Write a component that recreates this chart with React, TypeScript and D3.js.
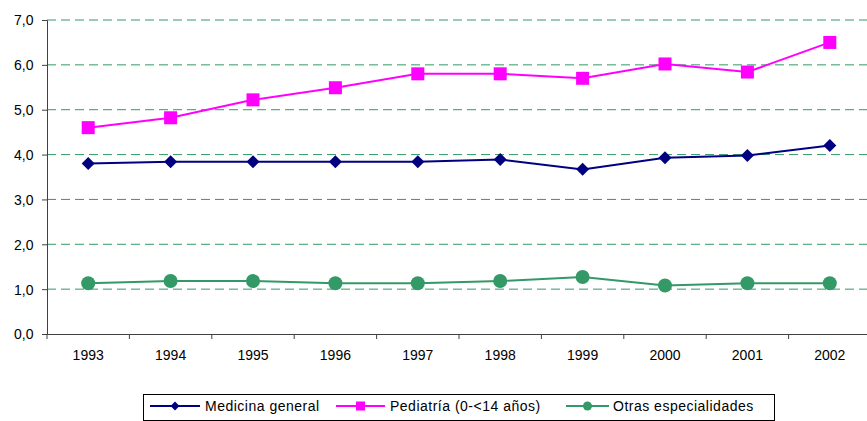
import { useEffect, useRef } from "react";
import * as d3 from "d3";

// years on the x axis
const years = ["1993", "1994", "1995", "1996", "1997", "1998", "1999", "2000", "2001", "2002"];

// series values
const medicinaGeneral = [3.8, 3.84, 3.84, 3.84, 3.84, 3.89, 3.67, 3.93, 3.98, 4.2];
const pediatria = [4.6, 4.82, 5.22, 5.49, 5.8, 5.8, 5.7, 6.02, 5.84, 6.5];
const otras = [1.13, 1.18, 1.18, 1.13, 1.13, 1.18, 1.27, 1.08, 1.13, 1.13];

const yTicks = [0, 1, 2, 3, 4, 5, 6, 7];

type Series = { name: string; values: number[]; color: string; marker: "diamond" | "square" | "circle" };

const series: Series[] = [
    { name: "Medicina general", values: medicinaGeneral, color: "#000080", marker: "diamond" },
    { name: "Pediatría (0-<14 años)", values: pediatria, color: "#FF00FF", marker: "square" },
    { name: "Otras especialidades", values: otras, color: "#339966", marker: "circle" },
];

const W = 867;
const H = 421;
const font = "'Liberation Sans', Arial, sans-serif";

function drawMarker(g: d3.Selection<SVGGElement, unknown, null, undefined>, kind: string, x: number, y: number, color: string, s: number) {
    if (kind === "diamond") {
        g.append("path")
            .attr("d", `M${x},${y - s}L${x + s},${y}L${x},${y + s}L${x - s},${y}Z`)
            .attr("fill", color);
    } else if (kind === "square") {
        g.append("rect")
            .attr("x", x - s)
            .attr("y", y - s)
            .attr("width", s * 2)
            .attr("height", s * 2)
            .attr("fill", color);
    } else {
        g.append("circle").attr("cx", x).attr("cy", y).attr("r", s).attr("fill", color);
    }
}

export default function App() {
    const ref = useRef<SVGSVGElement | null>(null);

    useEffect(() => {
        if (!ref.current) return;
        const svg = d3.select(ref.current);
        svg.selectAll("*").remove();

        const margin = { top: 20, left: 47, bottom: 334 };
        const plotRight = margin.left + 82.4 * years.length;

        const x = d3.scaleBand().domain(years).range([margin.left, plotRight]);
        const y = d3.scaleLinear().domain([0, 7]).range([margin.bottom, margin.top]);
        const cx = (d: string) => (x(d) || 0) + x.bandwidth() / 2;

        // gridlines
        svg.append("g")
            .selectAll("line")
            .data(yTicks.filter(t => t > 0))
            .enter()
            .append("line")
            .attr("x1", margin.left)
            .attr("x2", plotRight)
            .attr("y1", d => y(d))
            .attr("y2", d => y(d))
            .attr("stroke", "#339966")
            .attr("stroke-width", 1)
            .attr("stroke-dasharray", "9,5");

        // y axis
        const yAxis = svg.append("g")
            .attr("transform", `translate(${margin.left},0)`)
            .call(d3.axisLeft(y).tickValues(yTicks).tickSize(5).tickPadding(8.5).tickFormat(d => d3.format(".1f")(d as number).replace(".", ",")));
        yAxis.select(".domain").attr("stroke", "#404040");
        yAxis.selectAll(".tick line").attr("stroke", "#404040");
        yAxis.selectAll("text").attr("font-family", font).attr("font-size", 14).attr("fill", "#000").attr("dy", "0.35em");

        // x axis
        const xAxis = svg.append("g")
            .attr("transform", `translate(0,${margin.bottom})`)
            .call(d3.axisBottom(x).tickSize(0).tickPadding(16));
        xAxis.select(".domain").attr("stroke", "#404040");
        xAxis.selectAll("text").attr("font-family", font).attr("font-size", 14).attr("fill", "#000");
        // tick marks between categories
        svg.append("g")
            .selectAll("line")
            .data(d3.range(years.length + 1))
            .enter()
            .append("line")
            .attr("x1", i => margin.left + i * x.step())
            .attr("x2", i => margin.left + i * x.step())
            .attr("y1", margin.bottom)
            .attr("y2", margin.bottom + 5)
            .attr("stroke", "#404040");

        // series
        const line = d3.line<number>()
            .x((_, i) => cx(years[i]))
            .y(d => y(d));
        const markerSize: Record<string, number> = { diamond: 6.5, square: 6.5, circle: 7 };
        series.forEach(s => {
            const g = svg.append("g");
            g.append("path")
                .attr("d", line(s.values) || "")
                .attr("fill", "none")
                .attr("stroke", s.color)
                .attr("stroke-width", 2);
            s.values.forEach((v, i) => drawMarker(g, s.marker, cx(years[i]), y(v), s.color, markerSize[s.marker]));
        });

        // legend
        const lg = svg.append("g");
        lg.append("rect")
            .attr("x", 143.5)
            .attr("y", 394.5)
            .attr("width", 631)
            .attr("height", 26)
            .attr("fill", "#fff")
            .attr("stroke", "#000");
        const legendItems = [
            { x1: 150, x2: 200, tx: 205 },
            { x1: 336, x2: 385, tx: 390 },
            { x1: 566, x2: 609, tx: 613 },
        ];
        const legendMarker: Record<string, number> = { diamond: 4.5, square: 4.5, circle: 4.5 };
        series.forEach((s, i) => {
            const it = legendItems[i];
            const ly = 406;
            const g = lg.append("g");
            g.append("line")
                .attr("x1", it.x1)
                .attr("x2", it.x2)
                .attr("y1", ly)
                .attr("y2", ly)
                .attr("stroke", s.color)
                .attr("stroke-width", 2);
            drawMarker(g, s.marker, (it.x1 + it.x2) / 2, ly, s.color, legendMarker[s.marker]);
            g.append("text")
                .attr("x", it.tx)
                .attr("y", ly + 5)
                .attr("font-family", font)
                .attr("font-size", 14)
                .attr("letter-spacing", 0.5)
                .attr("fill", "#000")
                .text(s.name);
        });
    }, []);

    return (
        <svg
            ref={ref}
            width={W}
            height={H}
            style={{ position: "absolute", left: 0, top: 0, background: "#fff" }}
        />
    );
}
